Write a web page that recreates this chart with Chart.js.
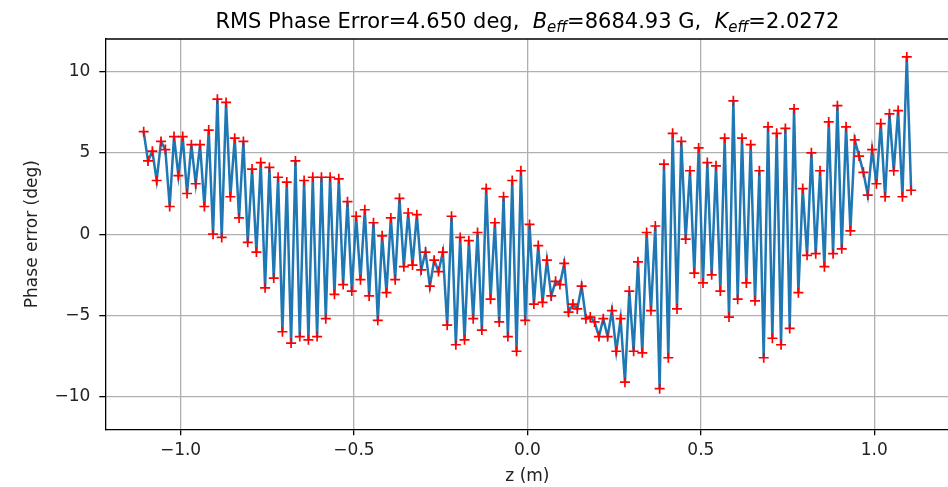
<!DOCTYPE html>
<html>
<head>
<meta charset="utf-8">
<script src="https://cdn.jsdelivr.net/npm/chart.js@4/dist/chart.umd.min.js"></script>
<style>
  html, body { margin: 0; padding: 0; background: #fff; overflow: hidden; }
  #wrap { width: 960px; height: 487px; }
</style>
</head>
<body>
<div id="wrap"><canvas id="chart"></canvas></div>
<script>
// pole positions along the undulator (m)
const zPos = [
  -1.10625,
  -1.09375, -1.08125, -1.06875, -1.05625, -1.04375, -1.03125, -1.01875, -1.00625,
  -0.99375, -0.98125, -0.96875, -0.95625, -0.94375, -0.93125, -0.91875, -0.90625,
  -0.89375, -0.88125, -0.86875, -0.85625, -0.84375, -0.83125, -0.81875, -0.80625,
  -0.79375, -0.78125, -0.76875, -0.75625, -0.74375, -0.73125, -0.71875, -0.70625,
  -0.69375, -0.68125, -0.66875, -0.65625, -0.64375, -0.63125, -0.61875, -0.60625,
  -0.59375, -0.58125, -0.56875, -0.55625, -0.54375, -0.53125, -0.51875, -0.50625,
  -0.49375, -0.48125, -0.46875, -0.45625, -0.44375, -0.43125, -0.41875, -0.40625,
  -0.39375, -0.38125, -0.36875, -0.35625, -0.34375, -0.33125, -0.31875, -0.30625,
  -0.29375, -0.28125, -0.26875, -0.25625, -0.24375, -0.23125, -0.21875, -0.20625,
  -0.19375, -0.18125, -0.16875, -0.15625, -0.14375, -0.13125, -0.11875, -0.10625,
  -0.09375, -0.08125, -0.06875, -0.05625, -0.04375, -0.03125, -0.01875, -0.00625,
  0.00625, 0.01875, 0.03125, 0.04375, 0.05625, 0.06875, 0.08125, 0.09375,
  0.10625, 0.11875, 0.13125, 0.14375, 0.15625, 0.16875, 0.18125, 0.19375,
  0.20625, 0.21875, 0.23125, 0.24375, 0.25625, 0.26875, 0.28125, 0.29375,
  0.30625, 0.31875, 0.33125, 0.34375, 0.35625, 0.36875, 0.38125, 0.39375,
  0.40625, 0.41875, 0.43125, 0.44375, 0.45625, 0.46875, 0.48125, 0.49375,
  0.50625, 0.51875, 0.53125, 0.54375, 0.55625, 0.56875, 0.58125, 0.59375,
  0.60625, 0.61875, 0.63125, 0.64375, 0.65625, 0.66875, 0.68125, 0.69375,
  0.70625, 0.71875, 0.73125, 0.74375, 0.75625, 0.76875, 0.78125, 0.79375,
  0.80625, 0.81875, 0.83125, 0.84375, 0.85625, 0.86875, 0.88125, 0.89375,
  0.90625, 0.91875, 0.93125, 0.94375, 0.95625, 0.96875, 0.98125, 0.99375,
  1.00625, 1.01875, 1.03125, 1.04375, 1.05625, 1.06875, 1.08125, 1.09375,
  1.10625
];

// phase error at each pole (deg)
const phaseErr = [
  6.3, 4.5, 5.1, 3.3, 5.7, 5.2, 1.7, 6.0, 3.6, 6.0,
  2.5, 5.5, 3.1, 5.5, 1.7, 6.4, 0.0, 8.3, -0.2, 8.1,
  2.3, 5.9, 1.0, 5.7, -0.5, 4.0, -1.1, 4.4, -3.3, 4.1,
  -2.7, 3.5, -6.0, 3.2, -6.7, 4.5, -6.3, 3.3, -6.5, 3.5,
  -6.3, 3.5, -5.2, 3.5, -3.7, 3.4, -3.1, 2.0, -3.5, 1.1,
  -2.8, 1.5, -3.8, 0.7, -5.3, -0.1, -3.6, 1.0, -2.8, 2.2,
  -2.0, 1.3, -1.9, 1.2, -2.2, -1.1, -3.2, -1.6, -2.3, -1.1,
  -5.6, 1.1, -6.8, -0.2, -6.5, -0.4, -5.2, 0.1, -5.9, 2.8,
  -4.0, 0.7, -5.4, 2.3, -6.3, 3.3, -7.2, 3.9, -5.3, 0.6,
  -4.3, -0.7, -4.2, -1.6, -3.8, -2.9, -3.1, -1.8, -4.8, -4.3,
  -4.6, -3.2, -5.2, -5.1, -5.4, -6.3, -5.2, -6.3, -4.7, -7.2,
  -5.2, -9.1, -3.5, -7.2, -1.7, -7.3, 0.1, -4.7, 0.5, -9.5,
  4.3, -7.6, 6.2, -4.6, 5.7, -0.3, 3.9, -2.4, 5.3, -3.0,
  4.4, -2.5, 4.2, -3.5, 5.9, -5.1, 8.2, -4.0, 5.9, -3.0,
  5.5, -4.1, 3.9, -7.6, 6.6, -6.4, 6.2, -6.8, 6.5, -5.8,
  7.7, -3.6, 2.8, -1.3, 5.0, -1.2, 3.9, -2.0, 6.9, -1.2,
  7.9, -0.9, 6.6, 0.2, 5.8, 4.8, 3.8, 2.4, 5.2, 3.1,
  6.8, 2.3, 7.4, 3.9, 7.6, 2.3, 10.9, 2.7
];

const xTicks = [-1.0, -0.5, 0.0, 0.5, 1.0];
const yTicks = [-10, -5, 0, 5, 10];

// title pieces: [text, style]  n = normal, i = italic, s = italic subscript
const titleParts = [
  ['RMS Phase Error=4.650 deg,  ', 'n'],
  ['B', 'i'], ['eff', 's'],
  ['=8684.93 G,  ', 'n'],
  ['K', 'i'], ['eff', 's'],
  ['=2.0272', 'n']
];

const FONT = '"DejaVu Sans", Verdana, sans-serif';
const minus = v => (v < 0 ? '\u2212' : '') + Math.abs(v);

const frameTitle = {
  id: 'frameTitle',
  afterDraw(chart) {
    const ctx = chart.ctx;
    const a = chart.chartArea;
    // top spine
    ctx.save();
    ctx.strokeStyle = '#000';
    ctx.lineWidth = 1.3;
    ctx.beginPath();
    ctx.moveTo(a.left, a.top);
    ctx.lineTo(a.right, a.top);
    ctx.stroke();

    const size = 21;
    const fonts = {
      n: size + 'px ' + FONT,
      i: 'italic ' + size + 'px ' + FONT,
      s: 'italic ' + Math.round(size * 0.7) + 'px ' + FONT
    };
    let total = 0;
    titleParts.forEach(p => { ctx.font = fonts[p[1]]; total += ctx.measureText(p[0]).width; });
    let x = (a.left + a.right) / 2 - total / 2;
    const base = 28;
    ctx.fillStyle = '#000';
    ctx.textBaseline = 'alphabetic';
    ctx.textAlign = 'left';
    titleParts.forEach(p => {
      ctx.font = fonts[p[1]];
      ctx.fillText(p[0], x, p[1] === 's' ? base + 4 : base);
      x += ctx.measureText(p[0]).width;
    });
    ctx.restore();
  }
};

const ctx = document.getElementById('chart');
const chart = new Chart(ctx, {
  type: 'scatter',
  data: {
    datasets: [{
      data: zPos.map((z, i) => ({ x: z, y: phaseErr[i] })),
      showLine: true,
      borderColor: '#1f77b4',
      borderWidth: 2.5,
      tension: 0,
      pointStyle: 'cross',
      pointRadius: 5,
      pointHoverRadius: 5,
      pointBorderColor: '#ff0000',
      pointBackgroundColor: '#ff0000',
      pointBorderWidth: 1.7
    }]
  },
  options: {
    responsive: true,
    maintainAspectRatio: false,
    animation: false,
    events: [],
    layout: { padding: { top: 39, right: 10.5, bottom: 0, left: 0 } },
    plugins: { legend: { display: false }, title: { display: false }, tooltip: { enabled: false } },
    scales: {
      x: {
        type: 'linear',
        min: -1.2169,
        max: 1.2169,
        afterBuildTicks: s => { s.ticks = xTicks.map(v => ({ value: v })); },
        afterFit: s => { s.height = 57.7; },
        grid: { color: '#b0b0b0', lineWidth: 1.3, tickColor: '#000', tickLength: 6, tickWidth: 1.3 },
        border: { color: '#000', width: 1.3 },
        ticks: {
          autoSkip: false, maxRotation: 0, padding: 5, color: '#222',
          font: { family: FONT, size: 17 },
          callback: v => (v < 0 ? '\u2212' : '') + Math.abs(v).toFixed(1)
        },
        title: { display: true, text: 'z (m)', color: '#222', font: { family: FONT, size: 17 }, padding: { top: 0, bottom: 0 } }
      },
      y: {
        min: -12,
        max: 12,
        afterBuildTicks: s => { s.ticks = yTicks.map(v => ({ value: v })); },
        afterFit: s => { s.width = 105.3; },
        grid: { color: '#b0b0b0', lineWidth: 1.3, tickColor: '#000', tickLength: 6, tickWidth: 1.3 },
        border: { color: '#000', width: 1.3 },
        ticks: {
          autoSkip: false, padding: 9, color: '#222',
          font: { family: FONT, size: 17 },
          callback: v => minus(v)
        },
        title: { display: true, text: 'Phase error (deg)', color: '#222', font: { family: FONT, size: 17 }, padding: { top: 22, bottom: 0 } }
      }
    }
  },
  plugins: [frameTitle]
});
</script>
</body>
</html>
